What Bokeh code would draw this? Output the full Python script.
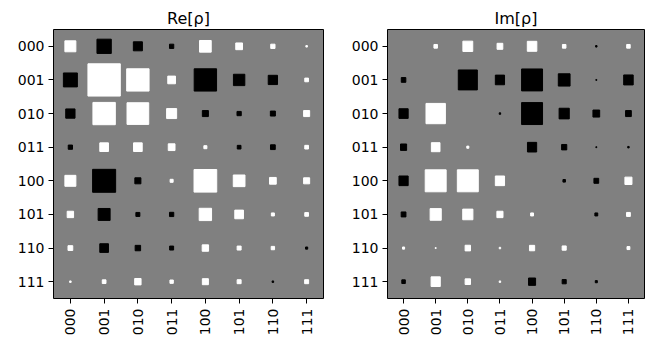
import numpy as np
from bokeh.plotting import figure
from bokeh.models import Range1d, FixedTicker, ColumnDataSource
from bokeh.layouts import row
from bokeh.embed import file_html
from bokeh.resources import INLINE

labels = ["000", "001", "010", "011", "100", "101", "110", "111"]

# Real part of the density matrix (rows top->bottom, columns left->right)
re_rho = [
    [0.053, -0.090, -0.036, -0.008, 0.060, 0.020, 0.008, 0.001],
    [-0.086, 0.460, 0.220, 0.026, -0.220, -0.057, -0.038, 0.006],
    [-0.038, 0.220, 0.207, 0.044, -0.016, -0.008, -0.011, 0.016],
    [-0.008, 0.033, 0.033, 0.020, 0.004, -0.006, -0.010, 0.006],
    [0.053, -0.233, -0.016, 0.004, 0.226, 0.060, 0.020, 0.016],
    [0.018, -0.063, -0.007, -0.008, 0.067, 0.033, 0.004, 0.006],
    [0.010, -0.033, -0.013, -0.007, 0.018, 0.007, 0.005, -0.002],
    [0.001, 0.006, 0.018, 0.005, 0.016, 0.007, -0.001, 0.007],
]

# Imaginary part of the density matrix
im_rho = [
    [0.0, 0.006, 0.047, 0.016, 0.044, 0.006, -0.001, 0.006],
    [-0.010, 0.0, -0.176, -0.041, -0.213, -0.067, -0.0004, -0.044],
    [-0.041, 0.182, 0.0, -0.001, -0.213, -0.050, -0.022, -0.016],
    [-0.018, 0.036, 0.002, 0.0, -0.041, -0.013, -0.0004, -0.001],
    [-0.041, 0.213, 0.213, 0.041, 0.0, -0.003, -0.011, 0.024],
    [-0.011, 0.060, 0.050, 0.018, 0.004, 0.0, -0.004, 0.007],
    [0.002, 0.0004, 0.014, 0.001, 0.013, 0.008, 0.0, 0.004],
    [-0.006, 0.041, 0.014, 0.001, -0.024, -0.008, -0.002, 0.0],
]

max_weight = 0.5
FONT = "DejaVu Sans"


def hinton(mat, title, width, left, right):
    p = figure(width=width, height=338, output_backend="svg", toolbar_location=None,
               x_range=Range1d(-0.5, 7.5), y_range=Range1d(7.5, -0.5),
               min_border_left=left, min_border_right=right,
               min_border_top=29, min_border_bottom=40, title=title)
    xs, ys, sz, col = [], [], [], []
    for i, rv in enumerate(mat):
        for j, w in enumerate(rv):
            if w == 0:
                continue
            xs.append(j)
            ys.append(i)
            sz.append(float(np.sqrt(abs(w) / max_weight)))
            col.append("white" if w > 0 else "black")
    src = ColumnDataSource(dict(x=xs, y=ys, s=sz, c=col))
    p.rect("x", "y", width="s", height="s", fill_color="c", line_color="c",
           line_width=1, source=src)

    p.background_fill_color = "#808080"
    p.border_fill_color = "white"
    p.outline_line_color = "black"
    p.outline_line_width = 1
    p.grid.visible = False

    for ax in (p.xaxis, p.yaxis):
        ax.ticker = FixedTicker(ticks=list(range(8)))
        ax.major_label_overrides = {i: lab for i, lab in enumerate(labels)}
        ax.major_label_text_font = FONT
        ax.major_label_text_font_size = "14px"
        ax.major_label_text_color = "black"
        ax.major_tick_out = 5
        ax.major_tick_in = 0
        ax.minor_tick_line_color = None
        ax.major_tick_line_color = "black"
        ax.axis_line_color = None
        ax.major_label_standoff = 4
    p.xaxis.major_label_orientation = np.pi / 2
    p.xaxis.major_label_standoff = 5

    p.title.align = "center"
    p.title.text_font = FONT
    p.title.text_font_size = "16px"
    p.title.text_font_style = "normal"
    p.title.text_color = "black"
    p.title.standoff = 4
    return p


p1 = hinton(re_rho, "Re[ρ]", 348, 53, 25)
p2 = hinton(im_rho, "Im[ρ]", 299, 25, 3)
layout = row(p1, p2)

open("out.html", "w").write(file_html(layout, INLINE))
